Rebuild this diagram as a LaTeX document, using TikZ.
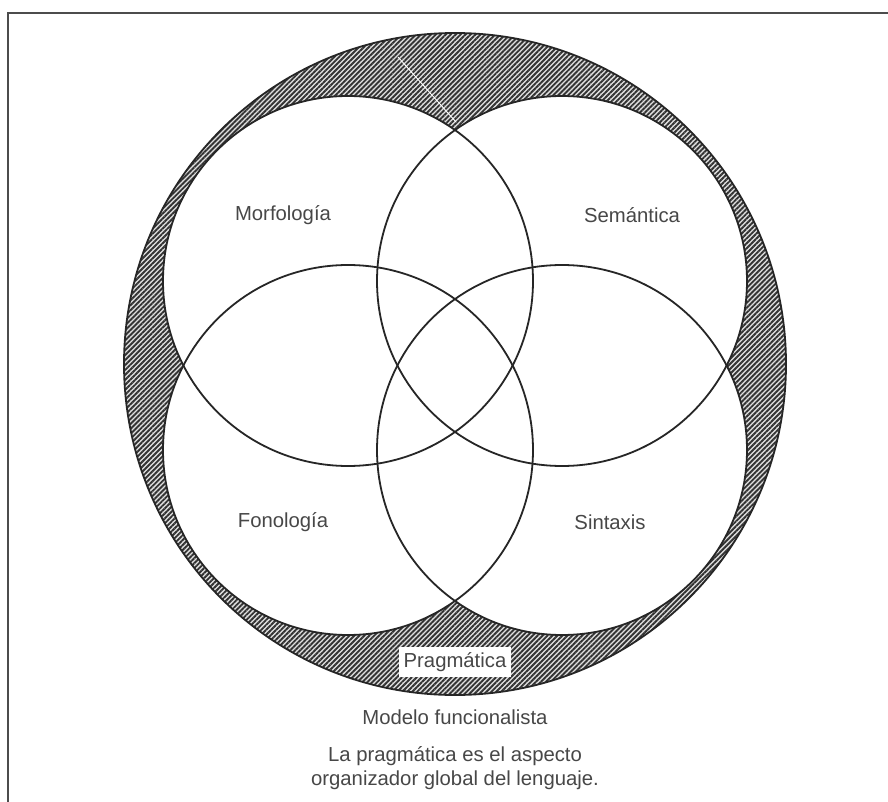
\documentclass[tikz,border=0pt]{standalone}
\usepackage{fontspec}
\setmainfont{Liberation Sans}
\usetikzlibrary{patterns.meta}
\begin{document}
\begin{tikzpicture}[x=1pt,y=-1pt,
  ring/.style={draw=black!85, line width=1.8pt},
  lbl/.style={font=\fontsize{20.3}{24.5}\selectfont, text=black!72, inner sep=0pt},
  hatch/.style={pattern={Lines[angle=45,distance=3.5pt,line width=1.9pt]}, pattern color=black!80}
]
\useasboundingbox (0,0) rectangle (888,802);
\fill[white] (0,0) rectangle (888,802);
\draw[black!70, line width=1.8pt] (8,13) rectangle (905,820);
% hatched ring: big circle minus the four circles
\fill[black!12] (455,364) circle[radius=331];
\path[hatch] (455,364) circle[radius=331];
\fill[white] (348,281) circle[radius=185] (562,281) circle[radius=185]
             (348,450) circle[radius=185] (562,450) circle[radius=185];
\draw[white, line width=0.9pt] (398,57) -- (456,122);
% outlines
\draw[ring] (455,364) circle[radius=331];
\draw[ring] (348,281) circle[radius=185];
\draw[ring] (562,281) circle[radius=185];
\draw[ring] (348,450) circle[radius=185];
\draw[ring] (562,450) circle[radius=185];
% labels
\node[lbl] (morf) at (283,215) {Morfología};
\node[lbl] (sem) at (632,215) {Semántica};
\node[lbl] (fono) at (283,522) {Fonología};
\node[lbl] (sint) at (610,522) {Sintaxis};
\node[lbl, fill=white, inner xsep=5pt, minimum height=30pt] (prag) at (455,662) {Pragmática};
\node[lbl] (modelo) at (455,717) {Modelo funcionalista};
\node[lbl, align=center] (nota) at (455,768) {La pragmática es el aspecto\\organizador global del lenguaje.};
\end{tikzpicture}
\end{document}
